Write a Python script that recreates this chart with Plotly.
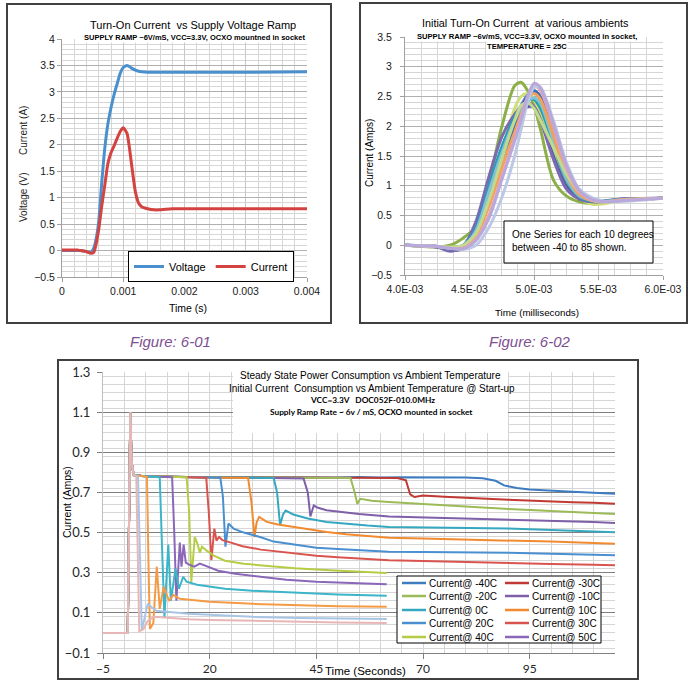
import plotly.graph_objects as go

W, H = 692, 686
NARROW = "Liberation Sans Narrow, Arial Narrow, Liberation Sans, Arial, sans-serif"
SANS = "Liberation Sans, Arial, sans-serif"
CAL = "Lato, Carlito, Calibri, sans-serif"

# ---------------- Figure 6-01 : Turn-on current vs supply voltage ramp
t_601 = [0, 0.00025, 0.0003, 0.0004, 0.00047, 0.00052, 0.00057, 0.0006, 0.00065, 0.0007,
         0.00075, 0.0008, 0.00085, 0.0009, 0.00095, 0.001, 0.00106, 0.0011, 0.00115, 0.0012,
         0.00125, 0.0013, 0.0014, 0.0015, 0.0016, 0.0018, 0.002, 0.003, 0.004]
voltage_601 = [0, 0, 0, -0.02, -0.04, 0.05, 0.3, 0.55, 1.3, 1.95, 2.4, 2.7, 2.95, 3.15, 3.35,
               3.46, 3.5, 3.48, 3.44, 3.41, 3.39, 3.38, 3.37, 3.37, 3.37, 3.37, 3.37, 3.37, 3.38]
current_601 = [0.01, 0.01, 0.0, -0.02, -0.05, -0.03, 0.2, 0.4, 0.85, 1.25, 1.65, 1.85, 1.98,
               2.12, 2.25, 2.32, 2.22, 1.95, 1.5, 1.1, 0.9, 0.83, 0.79, 0.77, 0.77, 0.79, 0.79,
               0.79, 0.79]

# ---------------- Figure 6-02 : Initial turn-on current at various ambients
t_602 = [0.00400, 0.00425, 0.00435, 0.00445, 0.00455, 0.00465, 0.00475, 0.00485, 0.00490,
         0.00495, 0.00500, 0.00505, 0.00515, 0.00525, 0.00535, 0.00545, 0.00555, 0.00570, 0.00600]
olive_602 = [0, -0.03, 0.0, 0.12, 0.32, 1.05, 1.99, 2.68, 2.74, 2.6, 2.35, 1.95, 1.1, 0.83, 0.73, 0.70, 0.72, 0.76, 0.79]
lime_602 = [0, -0.02, -0.04, -0.04, 0.15, 0.7, 1.5, 2.3, 2.5, 2.55, 2.45, 2.2, 1.55, 1.05, 0.8, 0.69, 0.70, 0.77, 0.79]
indigo_602 = [0, -0.03, -0.09, -0.05, 0.25, 0.9, 1.55, 2.05, 2.25, 2.33, 2.32, 2.12, 1.5, 1.0, 0.78, 0.74, 0.75, 0.78, 0.79]
purple_602 = [0, -0.03, -0.1, -0.02, 0.4, 1.15, 1.82, 2.2, 2.33, 2.4, 2.33, 2.1, 1.45, 0.95, 0.78, 0.73, 0.74, 0.78, 0.79]
teal_602 = [0, -0.02, -0.06, 0.0, 0.3, 1.0, 1.65, 2.15, 2.32, 2.43, 2.45, 2.3, 1.7, 1.1, 0.82, 0.74, 0.74, 0.77, 0.79]
blue_602 = [0, -0.02, -0.05, -0.02, 0.3, 0.95, 1.55, 2.1, 2.35, 2.52, 2.58, 2.45, 1.8, 1.15, 0.83, 0.74, 0.73, 0.77, 0.79]
navy_602 = [0, -0.02, -0.06, -0.03, 0.22, 0.85, 1.45, 2.0, 2.3, 2.5, 2.6, 2.5, 1.9, 1.2, 0.85, 0.75, 0.73, 0.76, 0.79]
aqua_602 = [0, -0.02, -0.05, -0.02, 0.25, 0.9, 1.55, 2.1, 2.3, 2.42, 2.48, 2.38, 1.75, 1.12, 0.83, 0.75, 0.74, 0.77, 0.79]
orange_602 = [0, -0.02, -0.05, -0.04, 0.15, 0.65, 1.3, 1.9, 2.2, 2.45, 2.55, 2.45, 1.85, 1.2, 0.86, 0.75, 0.73, 0.77, 0.79]
lgreen_602 = [0, -0.02, -0.03, 0.0, 0.2, 0.75, 1.45, 2.1, 2.35, 2.4, 2.3, 2.1, 1.65, 1.2, 0.9, 0.76, 0.72, 0.76, 0.79]
pink_602 = [0, -0.02, -0.05, -0.05, 0.1, 0.5, 1.15, 1.8, 2.15, 2.5, 2.68, 2.6, 2.0, 1.3, 0.9, 0.76, 0.73, 0.76, 0.79]
bgray_602 = [0, -0.02, -0.05, -0.07, 0.0, 0.3, 0.8, 1.5, 1.95, 2.4, 2.65, 2.65, 2.1, 1.4, 0.95, 0.8, 0.74, 0.74, 0.79]
lav_602 = [0, -0.02, -0.05, -0.06, 0.08, 0.45, 1.1, 1.75, 2.1, 2.5, 2.72, 2.65, 2.05, 1.35, 0.92, 0.77, 0.73, 0.75, 0.79]
x_ticks_602 = [0.004, 0.0045, 0.005, 0.0055, 0.006]
x_ticktext_602 = ["4.0E-03", "4.5E-03", "5.0E-03", "5.5E-03", "6.0E-03"]

# ---------------- Figure 6-03 : Steady state current vs ambient temperature
start_x = [-5, 0.8, 1.1, 1.4, 1.7, 2.2]
start_y = [0.0, 0.0, 0.55, 1.1, 0.85, 0.786]
x_m40 = [4, 10, 15, 20, 25, 30, 35, 40, 45, 50, 55, 60, 65, 70, 75, 80, 84, 87, 89, 92, 95, 100, 105, 110, 115]
y_m40 = [0.783, 0.779, 0.776, 0.777, 0.775, 0.776, 0.774, 0.776, 0.775, 0.774, 0.777, 0.774, 0.776, 0.775, 0.777, 0.774, 0.771, 0.758, 0.735, 0.722, 0.715, 0.708, 0.703, 0.699, 0.694]
x_m30 = [4, 10, 20, 30, 40, 50, 60, 64, 66, 67, 68, 70, 75, 80, 85, 90, 95, 100, 105, 110, 115]
y_m30 = [0.783, 0.778, 0.776, 0.775, 0.774, 0.775, 0.773, 0.772, 0.76, 0.69, 0.677, 0.685, 0.678, 0.672, 0.668, 0.664, 0.659, 0.655, 0.651, 0.648, 0.643]
x_m20 = [4, 10, 20, 30, 40, 50, 53, 54, 54.6, 55.3, 56.5, 58, 62, 70, 80, 90, 100, 110, 115]
y_m20 = [0.782, 0.778, 0.776, 0.775, 0.775, 0.774, 0.772, 0.70, 0.643, 0.668, 0.664, 0.658, 0.652, 0.642, 0.628, 0.618, 0.608, 0.598, 0.592]
x_m10 = [4, 10, 20, 30, 40, 42, 43, 43.6, 44.4, 45.2, 47.4, 50, 55, 62, 70, 80, 90, 100, 110, 115]
y_m10 = [0.782, 0.778, 0.776, 0.775, 0.773, 0.770, 0.70, 0.58, 0.635, 0.625, 0.611, 0.605, 0.592, 0.58, 0.576, 0.571, 0.566, 0.56, 0.553, 0.548]
x_0 = [4, 10, 20, 30, 35, 35.8, 36.5, 37.2, 37.8, 39.6, 43, 47.4, 52, 57, 62, 70, 80, 90, 100, 110, 115]
y_0 = [0.782, 0.778, 0.776, 0.774, 0.772, 0.70, 0.537, 0.59, 0.61, 0.59, 0.57, 0.553, 0.543, 0.535, 0.528, 0.526, 0.523, 0.52, 0.513, 0.507, 0.502]
x_10 = [4, 10, 20, 29, 29.8, 30.5, 31.0, 31.6, 33.4, 36, 39.6, 43, 47.4, 52, 57, 62, 70, 80, 90, 100, 110, 115]
y_10 = [0.782, 0.778, 0.775, 0.772, 0.65, 0.478, 0.55, 0.578, 0.553, 0.54, 0.528, 0.515, 0.503, 0.492, 0.482, 0.474, 0.47, 0.466, 0.462, 0.455, 0.448, 0.444]
x_20 = [4, 10, 15, 22.5, 23.1, 23.7, 24.4, 25.6, 28, 31.8, 35, 39.6, 45, 50, 55, 62, 70, 80, 90, 100, 110, 115]
y_20 = [0.782, 0.778, 0.776, 0.773, 0.68, 0.43, 0.545, 0.52, 0.5, 0.478, 0.455, 0.44, 0.425, 0.418, 0.412, 0.405, 0.403, 0.402, 0.399, 0.395, 0.39, 0.387]
x_30 = [4, 10, 15, 19.2, 19.8, 20.4, 21.1, 21.6, 22.2, 23, 25, 27.7, 32, 39.6, 45, 50, 55, 62, 70, 80, 90, 100, 110, 115]
y_30 = [0.782, 0.778, 0.776, 0.773, 0.6, 0.362, 0.52, 0.46, 0.478, 0.462, 0.45, 0.432, 0.415, 0.397, 0.385, 0.377, 0.37, 0.362, 0.358, 0.352, 0.347, 0.343, 0.34, 0.337]
x_40 = [4, 10, 14.6, 15.2, 15.7, 16.5, 17.2, 17.7, 18.2, 19.3, 21, 23.6, 28, 33, 40, 47, 55, 61.5]
y_40 = [0.782, 0.778, 0.776, 0.6, 0.254, 0.478, 0.44, 0.40, 0.43, 0.41, 0.385, 0.36, 0.345, 0.335, 0.322, 0.313, 0.305, 0.298]
x_50 = [4, 10, 11.2, 11.7, 12.2, 13.0, 13.4, 13.9, 14.4, 15.2, 16.4, 17.7, 22, 26, 31.8, 38, 45, 52, 61.5]
y_50 = [0.782, 0.778, 0.776, 0.5, 0.16, 0.45, 0.33, 0.44, 0.35, 0.34, 0.33, 0.345, 0.31, 0.295, 0.279, 0.265, 0.255, 0.248, 0.242]
x_60 = [4, 8.3, 8.8, 9.4, 10.3, 10.9, 12.0, 12.8, 13.8, 14.6, 17, 20, 23.6, 30, 40, 50, 61.5]
y_60 = [0.782, 0.776, 0.45, 0.078, 0.44, 0.16, 0.32, 0.22, 0.28, 0.255, 0.24, 0.23, 0.22, 0.21, 0.2, 0.192, 0.185]
x_70 = [4, 5.3, 5.7, 6.0, 6.8, 7.6, 8.3, 9.2, 10.5, 11.5, 13, 16, 20, 30, 40, 50, 61.5]
y_70 = [0.782, 0.778, 0.3, 0.02, 0.05, 0.33, 0.12, 0.23, 0.16, 0.19, 0.17, 0.165, 0.155, 0.145, 0.138, 0.133, 0.13]
x_80 = [3.2, 3.6, 4.1, 4.8, 5.5, 6.5, 7.5, 10, 15, 20, 25, 30, 41, 50, 61.5]
y_80 = [0.782, 0.4, 0.012, 0.08, 0.145, 0.125, 0.11, 0.105, 0.095, 0.09, 0.085, 0.08, 0.075, 0.072, 0.07]
x_90 = [2.8, 3.1, 3.5, 4.5, 5.5, 7, 10, 15, 20, 30, 40, 50, 61.5]
y_90 = [0.782, 0.4, 0.008, 0.02, 0.06, 0.08, 0.075, 0.068, 0.065, 0.06, 0.055, 0.052, 0.05]
labels_603 = ["Current@ -40C", "Current@ -30C", "Current@ -20C", "Current@ -10C", "Current@ 0C",
              "Current@ 10C", "Current@ 20C", "Current@ 30C", "Current@ 40C", "Current@ 50C",
              "Current@ 60C", "Current@ 70C", "Current@ 80C", "Current@ 90C"]
colors_603 = ["#3E7CC0", "#C03A33", "#9BBB59", "#7E5FA8", "#35A8C0", "#F28A30", "#4A8FD0",
              "#D9534F", "#B5CD45", "#8A67B9", "#3CB5C9", "#F59A45", "#A9C5E6", "#E8B6B6"]

# ---------------- helpers (pixel -> paper)
def px(x):
    return x / W


def py(y):
    return 1 - y / H


fig = go.Figure()

# Figure 6-01 traces
fig.add_trace(go.Scatter(x=t_601, y=voltage_601, name="Voltage", mode="lines",
                         line=dict(color="#4A90CE", width=3, shape="spline", smoothing=0.6),
                         xaxis="x", yaxis="y"))
fig.add_trace(go.Scatter(x=t_601, y=current_601, name="Current", mode="lines",
                         line=dict(color="#D4433F", width=3, shape="spline", smoothing=0.6),
                         xaxis="x", yaxis="y"))

# Figure 6-02 traces
series_602 = [(olive_602, "#8CAF47"), (lime_602, "#D0DE78"), (indigo_602, "#505AA8"),
              (purple_602, "#7C6AB0"), (teal_602, "#2A9DB0"), (blue_602, "#4C80C4"),
              (navy_602, "#3E6EB4"), (aqua_602, "#7DC4D4"), (orange_602, "#F2A158"),
              (lgreen_602, "#C2DA90"), (pink_602, "#E9A3B8"), (bgray_602, "#BDC8E6"),
              (lav_602, "#B9A8DA")]
for vals, col in series_602:
    fig.add_trace(go.Scatter(x=t_602, y=vals, mode="lines", showlegend=False,
                             line=dict(color=col, width=3, shape="spline", smoothing=0.8),
                             xaxis="x2", yaxis="y2"))

# Figure 6-03 traces
xs_603 = [x_m40, x_m30, x_m20, x_m10, x_0, x_10, x_20, x_30, x_40, x_50, x_60, x_70, x_80, x_90]
ys_603 = [y_m40, y_m30, y_m20, y_m10, y_0, y_10, y_20, y_30, y_40, y_50, y_60, y_70, y_80, y_90]
for xs, ys, lab, col in zip(xs_603, ys_603, labels_603, colors_603):
    fig.add_trace(go.Scatter(x=start_x + xs, y=start_y + ys, mode="lines", name=lab,
                             showlegend=False, line=dict(color=col, width=2),
                             xaxis="x3", yaxis="y3"))

GRID_L = "#D6D6D6"
GRID_M = "#B0B0B0"
TICKF = dict(family=SANS, size=10.5, color="#1a1a1a")

fig.update_layout(
    width=W, height=H, margin=dict(l=0, r=0, t=0, b=0, autoexpand=False),
    paper_bgcolor="white", plot_bgcolor="rgba(0,0,0,0)",
    showlegend=True,
    legend=dict(x=px(128), y=py(251), xanchor="left", yanchor="top", orientation="h",
                bgcolor="white", bordercolor="#000000", borderwidth=1,
                font=dict(family=SANS, size=11, color="#000"), itemwidth=30,
                tracegroupgap=0),
    xaxis=dict(domain=[px(62), px(307)], anchor="y", range=[0, 0.004], tick0=0, dtick=0.001,
               tickformat=".3~f", showgrid=True, gridcolor="#C8C8C8", zeroline=False,
               minor=dict(dtick=0.0002, showgrid=True, gridcolor=GRID_L),
               showline=True, linecolor="#A0A0A0", ticks="outside", ticklen=4,
               tickcolor="#A0A0A0", tickfont=TICKF, automargin=False),
    yaxis=dict(domain=[py(277), py(39)], anchor="x", range=[-0.5, 4], tick0=0, dtick=0.5,
               showgrid=True, gridcolor=GRID_M, zeroline=False,
               minor=dict(dtick=0.1, showgrid=True, gridcolor=GRID_L),
               showline=True, linecolor="#A0A0A0", ticks="outside", ticklen=4,
               tickcolor="#A0A0A0", tickfont=TICKF, automargin=False),
    xaxis2=dict(domain=[px(405), px(663)], anchor="y2", range=[0.004, 0.006],
                tickvals=x_ticks_602, ticktext=x_ticktext_602, showgrid=True,
                gridcolor="#C8C8C8", zeroline=False,
                minor=dict(dtick=0.000125, tick0=0.004, showgrid=True, gridcolor=GRID_L),
                showline=True, linecolor="#A0A0A0", ticks="outside", ticklen=4,
                tickcolor="#A0A0A0", tickfont=TICKF, automargin=False),
    yaxis2=dict(domain=[py(275), py(37)], anchor="x2", range=[-0.5, 3.5], tick0=0, dtick=0.5,
                showgrid=True, gridcolor=GRID_M, zeroline=False,
                minor=dict(dtick=0.1, showgrid=True, gridcolor=GRID_L),
                showline=True, linecolor="#A0A0A0", ticks="outside", ticklen=4,
                tickcolor="#A0A0A0", tickfont=TICKF, ticklabelstandoff=6, automargin=False),
    xaxis3=dict(domain=[px(103), px(615)], anchor="y3", range=[-5, 115], tick0=-5, dtick=25,
                showgrid=True, gridcolor=GRID_L, zeroline=False,
                minor=dict(dtick=5, showgrid=True, gridcolor=GRID_L),
                showline=True, linecolor="#808080", ticks="outside", ticklen=5,
                tickcolor="#808080", tickfont=dict(family=CAL, size=12, color="#262626"),
                automargin=False),
    yaxis3=dict(domain=[py(653), py(372)], anchor="x3", range=[-0.1, 1.3], tick0=-0.1, dtick=0.2,
                showgrid=True, gridcolor="#7F7F7F", zeroline=False,
                minor=dict(dtick=0.04, showgrid=True, gridcolor=GRID_L),
                showline=True, linecolor="#BFBFBF", ticks="outside", ticklen=5,
                tickcolor="#808080", tickfont=dict(family=CAL, size=13, color="#262626"),
                ticklabelstandoff=4, automargin=False),
)

shapes = []
annotations = []


def ann(text, x, y, size, family=SANS, color="#000", xanchor="center", angle=0,
        bg=None, align="center"):
    d = dict(text=text, x=px(x), y=py(y), xref="paper", yref="paper", showarrow=False,
             xanchor=xanchor, yanchor="middle", textangle=angle, align=align,
             font=dict(family=family, size=size, color=color))
    if bg:
        d["bgcolor"] = bg
    d["borderpad"] = 0
    annotations.append(d)


def rect(x0, y0, x1, y1, line="#404040", width=2, fill=None):
    d = dict(type="rect", xref="paper", yref="paper", x0=px(x0), y0=py(y0), x1=px(x1),
             y1=py(y1), line=dict(color=line, width=width), layer="above")
    d["fillcolor"] = fill if fill else "rgba(0,0,0,0)"
    shapes.append(d)


# panel borders
rect(7, 4, 331, 323)
rect(360, 3, 687, 323)
rect(58, 360, 638, 679)

# Figure 6-01 text
ann("Turn-On Current  vs Supply Voltage Ramp", 193, 25, 11)
ann("<b>SUPPLY RAMP ~6V/mS, VCC=3.3V, OCXO mountned in socket</b>", 194, 38, 7.5, bg="white")
ann("Current (A)", 24, 130, 10, color="#262626", angle=-90)
ann("Voltage (V)", 24, 197, 10, color="#262626", angle=-90)
ann("Time (s)", 188, 308, 10.5)
ann("<i>Figure: 6-01</i>", 170, 342, 15, color="#7D4F91")

# Figure 6-02 text
ann("Initial Turn-On Current  at various ambients", 525, 23, 10.8)
ann("<b>SUPPLY RAMP ~6v/mS, VCC=3.3V, OCXO mounted in socket,</b>", 527, 36, 7.6, bg="white")
ann("<b>TEMPERATURE = 25C</b>", 527, 47, 7.6, bg="white")
ann("Current (Amps)", 370, 153, 10, angle=-90)
ann("Time (milliseconds)", 537, 312, 9.8)
rect(504, 221, 653, 263, line="#000000", width=1, fill="white")
ann("One Series for each 10 degrees<br>between -40 to 85 shown.", 511, 241, 10,
    xanchor="left", align="left")
ann("<i>Figure: 6-02</i>", 530, 342, 15, color="#7D4F91")

# Figure 6-03 text
rect(233, 372, 508, 433, line="white", width=0, fill="white")
ann("Steady State Power Consumption vs Ambient Temperature", 370, 376, 10)
ann("Initial Current  Consumption vs Ambient Temperature @ Start-up", 372, 388, 10)
ann("<b>VCC=3.3V   DOC052F-010.0MHz</b>", 372, 400, 8.3, family=CAL)
ann("<b>Supply Ramp Rate ~ 6v / mS, OCXO mounted in socket</b>", 371, 412, 8.3, family=CAL)
ann("Current (Amps)", 67, 502, 10.5, angle=-90)
ann("Time (Seconds)", 324, 671, 11.5, xanchor="left")
ann("<i>Figure: 6-03</i>", 340, 691, 15, color="#7D4F91")

# Figure 6-03 legend (two columns, five rows)
rect(397, 576, 601, 643, line="#000000", width=1, fill="white")
row_y = [583, 596, 610, 623, 637]
for i in range(10):
    col_x = 402 if i % 2 == 0 else 505
    yy = row_y[i // 2]
    shapes.append(dict(type="line", xref="paper", yref="paper", x0=px(col_x), x1=px(col_x + 24),
                       y0=py(yy), y1=py(yy), line=dict(color=colors_603[i], width=2.5),
                       layer="above"))
    ann(labels_603[i], col_x + 26, yy, 10, xanchor="left")

fig.update_layout(shapes=shapes, annotations=annotations)
fig.write_html("out.html")
